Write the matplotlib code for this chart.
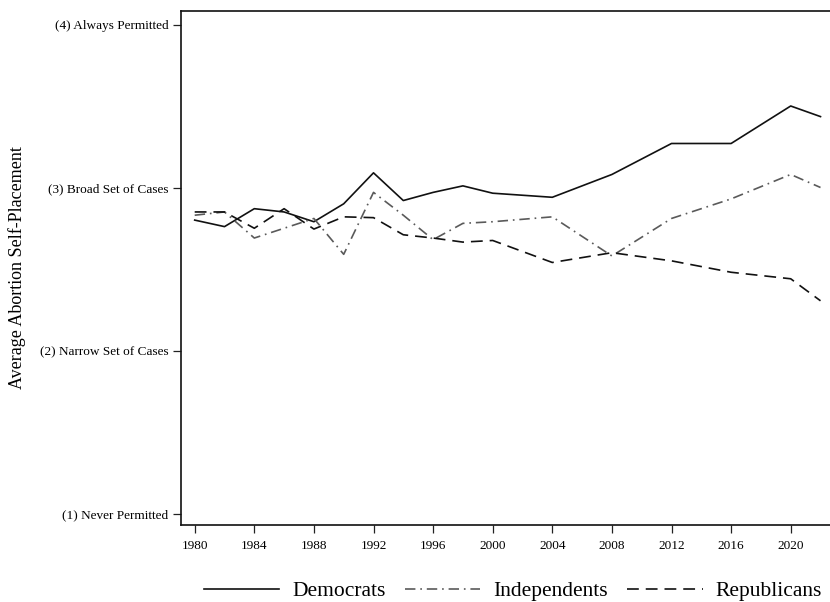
import matplotlib
matplotlib.use("Agg")
import matplotlib.pyplot as plt

# ANES survey years and party averages
years = [1980, 1982, 1984, 1986, 1988, 1990, 1992, 1994, 1996, 1998, 2000,
         2004, 2008, 2012, 2016, 2020, 2022]
democrats = [2.80, 2.76, 2.87, 2.85, 2.79, 2.90, 3.09, 2.92, 2.97, 3.01, 2.965,
             2.94, 3.08, 3.27, 3.27, 3.50, 3.435]
independents = [2.83, 2.85, 2.69, 2.75, 2.81, 2.59, 2.97, 2.83, 2.68, 2.78, 2.79,
                2.82, 2.58, 2.81, 2.93, 3.08, 3.00]
republicans = [2.85, 2.85, 2.75, 2.87, 2.745, 2.82, 2.815, 2.71, 2.69, 2.665, 2.675,
               2.54, 2.60, 2.55, 2.48, 2.44, 2.305]

xticks = list(range(1980, 2021, 4))
yticks = [1, 2, 3, 4]
yticklabels = ["(1) Never Permitted", "(2) Narrow Set of Cases",
               "(3) Broad Set of Cases", "(4) Always Permitted"]

plt.rcParams["font.family"] = ["Liberation Serif", "DejaVu Serif"]
plt.rcParams["lines.scale_dashes"] = False

fig = plt.figure(figsize=(8.3, 6.02), dpi=100)
ax = fig.add_axes([181 / 830, 1 - 525 / 602, 1 - 181 / 830, (525 - 10.7) / 602])

ax.plot(years, democrats, color="#111111", linewidth=1.2, label="Democrats")
ax.plot(years, independents, color="#5a5a5a", linewidth=1.2,
        linestyle=(0, (7.5, 3.5, 1.2, 3.5)), label="Independents")
ax.plot(years, republicans, color="#111111", linewidth=1.2,
        linestyle=(0, (8.5, 5)), label="Republicans")

ax.set_xlim(1980 - 13.7 / 14.9, 1980 + (830 - 194.7) / 14.9)
ax.set_ylim(1 - 11.5 / 163, 4 + 13.8 / 163)
ax.set_xticks(xticks)
ax.set_yticks(yticks)
ax.set_yticklabels(yticklabels)
ax.tick_params(axis="both", labelsize=9.5, length=6, width=0.9, color="#222222")
ax.tick_params(axis="x", pad=5)
ax.tick_params(axis="y", pad=3)
ax.spines["right"].set_visible(False)
for s in ["left", "bottom", "top"]:
    ax.spines[s].set_linewidth(1.2)
    ax.spines[s].set_color("#111111")

fig.text(17 / 830, 1 - 268 / 602, "Average Abortion Self-Placement", rotation=90,
         ha="center", va="center", fontsize=13)

fig.legend(loc="center", bbox_to_anchor=(513 / 830, 1 - 591 / 602), ncol=3,
           frameon=False, fontsize=15.5, handlelength=3.5, handletextpad=0.6,
           columnspacing=0.9, borderpad=0)

fig.savefig("out.png", dpi=100)
